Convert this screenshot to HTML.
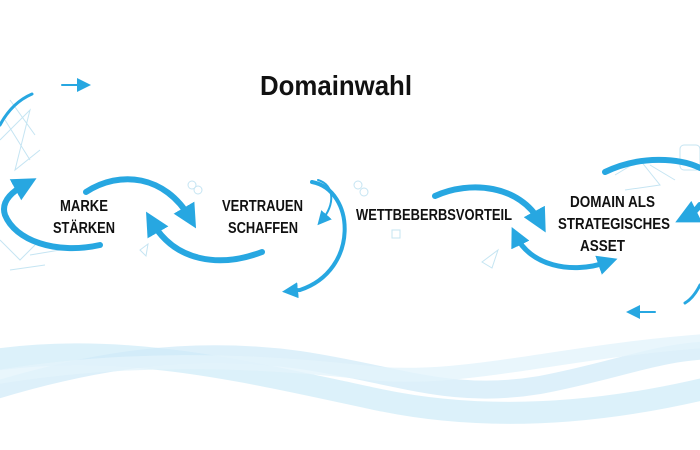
<!DOCTYPE html>
<html><head><meta charset="utf-8"><style>
html,body{margin:0;padding:0;background:#fff;width:700px;height:450px;overflow:hidden}
svg{display:block}
.t{font-family:"Liberation Sans",sans-serif;font-weight:bold;fill:#111}
</style></head><body>
<svg width="700" height="450" viewBox="0 0 700 450" xmlns="http://www.w3.org/2000/svg">
<defs>
<marker id="a" viewBox="0 0 10 10" refX="5" refY="5" markerWidth="4" markerHeight="4" orient="auto-start-reverse" markerUnits="strokeWidth">
<path d="M0,0 L10,5 L0,10 z" fill="#27a7e1"/></marker>
<marker id="s" viewBox="0 0 10 10" refX="5" refY="5" markerWidth="7" markerHeight="7" orient="auto" markerUnits="strokeWidth">
<path d="M0,0 L10,5 L0,10 z" fill="#27a7e1"/></marker>
</defs>
<!-- waves -->
<g fill="none" stroke-linecap="round">
<path d="M-20,362 C120,340 240,370 380,400 C500,425 620,410 720,385" stroke="#d3edf9" stroke-width="22" opacity="0.8"/>
<path d="M-20,395 C90,360 190,345 300,360 C400,375 450,400 540,385 C620,370 660,350 720,350" stroke="#cfeaf8" stroke-width="18" opacity="0.7"/>
<path d="M-20,380 C120,355 250,360 360,372 C460,385 560,350 720,340" stroke="#e3f4fb" stroke-width="14" opacity="0.8"/>
</g>
<!-- faint decorations -->
<g fill="none" stroke="#9fd3ea" stroke-width="1" opacity="0.6">
<path d="M0,140 L30,110 L15,170 L40,150 M5,120 L30,160 M10,100 L35,135"/>
<path d="M0,240 L20,260 L40,240 M30,255 L60,250 M10,270 L45,265"/>
<path d="M615,175 L640,160 L660,185 L625,190 M650,165 L675,180"/>
<rect x="680" y="145" width="20" height="25" rx="4"/>
<path d="M482,262 L498,250 L492,268 z"/>
<path d="M140,250 L148,244 L146,256 z"/>
<circle cx="192" cy="185" r="4"/><circle cx="198" cy="190" r="4"/>
<circle cx="358" cy="185" r="4"/><circle cx="364" cy="192" r="4"/>
<rect x="392" y="230" width="8" height="8"/>
</g>
<!-- arrows -->
<g fill="none" stroke="#27a7e1" stroke-linecap="round">
<path d="M86,192 C120,170 165,175 190,218" stroke-width="6" marker-end="url(#a)"/>
<path d="M262,252 C220,268 175,262 152,222" stroke-width="6" marker-end="url(#a)"/>
<path d="M100,245 C55,255 15,240 5,215 C0,200 15,190 26,184" stroke-width="6" marker-end="url(#a)"/>
<path d="M0,125 C8,110 18,100 32,94" stroke-width="3"/>
<path d="M62,85 L84,85" stroke-width="2" marker-end="url(#s)"/>
<path d="M312,182 C355,190 360,270 300,290 L290,291" stroke-width="4" marker-end="url(#a)"/>
<path d="M318,180 C335,185 335,205 322,220" stroke-width="2" marker-end="url(#s)"/>
<path d="M435,196 C470,180 520,185 540,222" stroke-width="6" marker-end="url(#a)"/>
<path d="M516,236 C530,265 570,275 608,262" stroke-width="5" marker-start="url(#a)" marker-end="url(#a)"/>
<path d="M605,172 C640,155 680,158 700,168" stroke-width="6"/>
<path d="M700,205 C695,212 690,215 686,217" stroke-width="6" marker-end="url(#a)"/>
<path d="M655,312 L633,312" stroke-width="2" marker-end="url(#s)"/>
<path d="M700,285 C695,295 690,300 685,303" stroke-width="3"/>
</g>
<!-- text -->
<text class="t" x="260" y="95" font-size="28" textLength="152" lengthAdjust="spacingAndGlyphs">Domainwahl</text>
<g class="t" font-size="16">
<text x="60" y="211" textLength="48" lengthAdjust="spacingAndGlyphs">MARKE</text>
<text x="53" y="233" textLength="62" lengthAdjust="spacingAndGlyphs">STÄRKEN</text>
<text x="222" y="211" textLength="81" lengthAdjust="spacingAndGlyphs">VERTRAUEN</text>
<text x="228" y="233" textLength="70" lengthAdjust="spacingAndGlyphs">SCHAFFEN</text>
<text x="356" y="220" textLength="156" lengthAdjust="spacingAndGlyphs">WETTBEBERBSVORTEIL</text>
<text x="570" y="207" textLength="85" lengthAdjust="spacingAndGlyphs">DOMAIN ALS</text>
<text x="558" y="229" textLength="112" lengthAdjust="spacingAndGlyphs">STRATEGISCHES</text>
<text x="580" y="251" textLength="45" lengthAdjust="spacingAndGlyphs">ASSET</text>
</g>
</svg>
</body></html>
